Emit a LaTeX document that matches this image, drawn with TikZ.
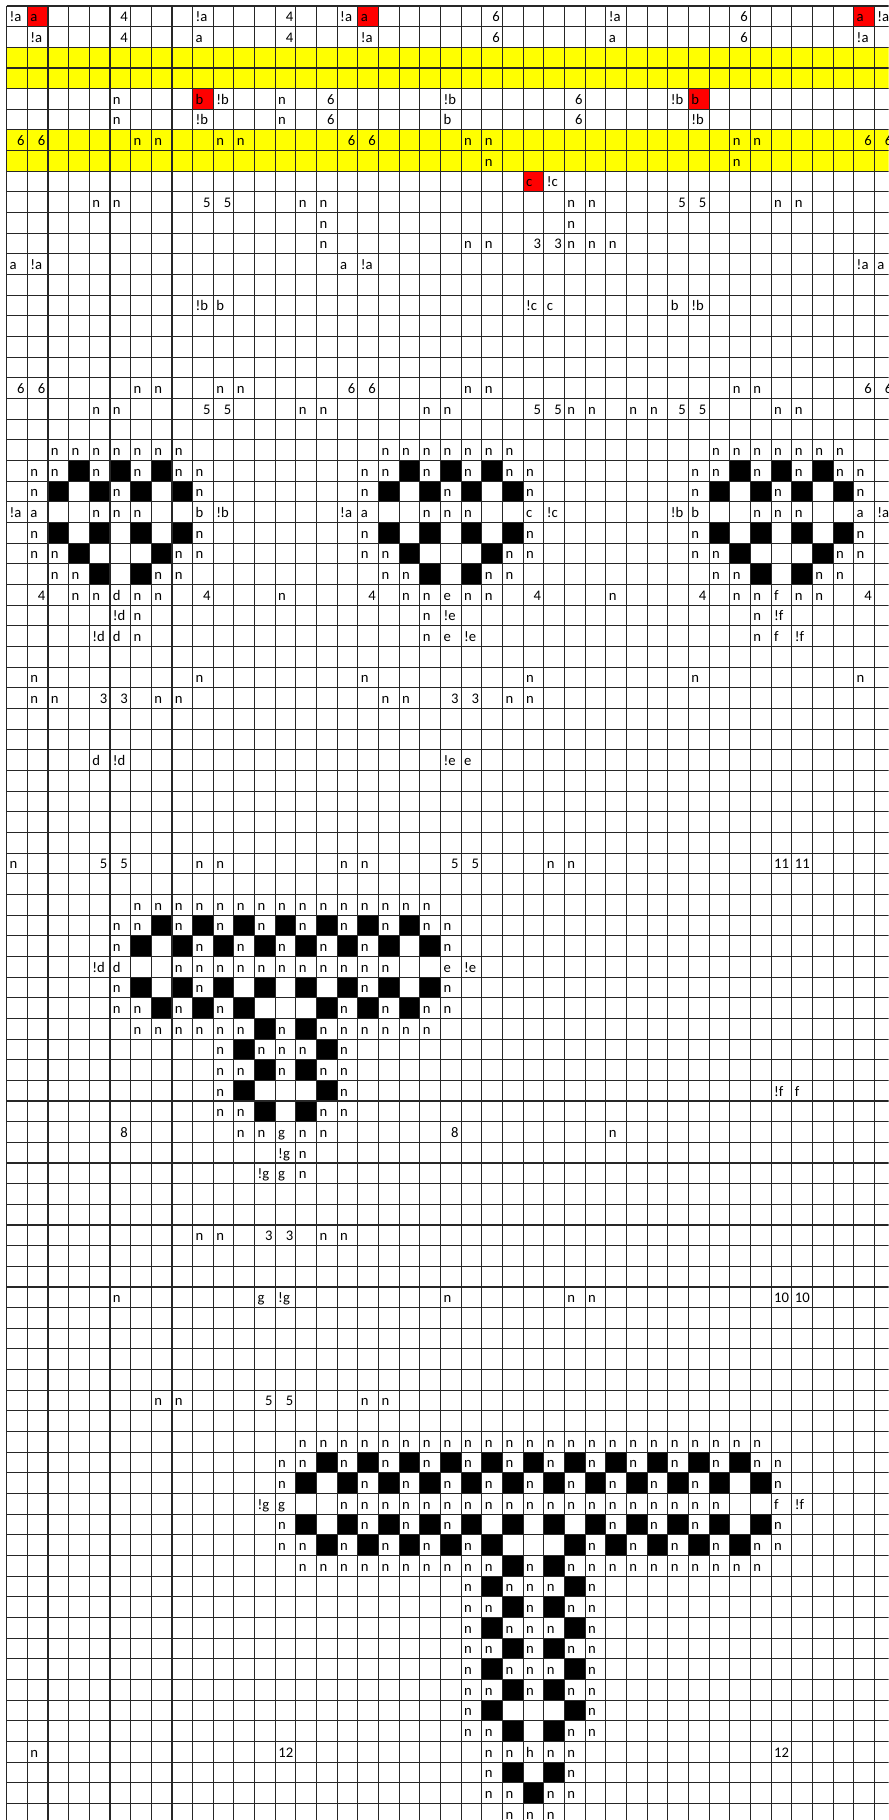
\documentclass[tikz,border=0pt]{standalone}
\usepackage{fontspec}
\setmainfont{Carlito}
\usepackage{tikz}
\definecolor{cellyellow}{RGB}{255,255,0}
\definecolor{cellred}{RGB}{255,0,0}
\definecolor{gridgray}{RGB}{38,38,38}
\tikzset{
  celltxt/.style={anchor=base west,inner sep=0pt,font=\fontsize{11}{13}\selectfont},
  cellnum/.style={anchor=base east,inner sep=0pt,font=\fontsize{11}{13}\selectfont},
  gridline/.style={gridgray,line width=0.8pt},
  redcell/.style={fill=cellred}
}
\newcommand{\lrow}[2]{\foreach \col/\txt in {#2} {\node[celltxt] (l#1x\col) at (\col+0.13,-#1-0.76) {\txt};}}
\newcommand{\rrow}[2]{\foreach \col/\txt in {#2} {\node[cellnum] (r#1x\col) at (\col+0.88,-#1-0.76) {\txt};}}
\newcommand{\nrow}[2]{\foreach \col in {#2} {\node[celltxt] (n#1x\col) at (\col+0.13,-#1-0.76) {n};}}
\newcommand{\brow}[2]{\foreach \col in {#2} {\fill[black] (\col,-#1) rectangle ++(1,-1);}}

\begin{document}
\begin{tikzpicture}[x=15.5pt,y=15.5pt]
    \useasboundingbox (-0.324,0.29) rectangle (42.686,-87.8);
    \clip (-0.324,0.29) rectangle (42.686,-87.8);
    \fill[cellyellow] (0,-2) rectangle (42.686,-4);
    \fill[cellyellow] (0,-6) rectangle (42.686,-8);
    \fill[redcell] (1,0) rectangle ++(1,-1);
    \fill[redcell] (17,0) rectangle ++(1,-1);
    \fill[redcell] (41,0) rectangle ++(1,-1);
    \fill[redcell] (9,-4) rectangle ++(1,-1);
    \fill[redcell] (33,-4) rectangle ++(1,-1);
    \fill[redcell] (25,-8) rectangle ++(1,-1);
    \brow{22}{3,5,7,19,21,23,35,37,39}
    \brow{23}{2,4,6,8,18,20,22,24,34,36,38,40}
    \brow{25}{2,4,6,8,18,20,22,24,34,36,38,40}
    \brow{26}{3,7,19,23,35,39}
    \brow{27}{4,6,20,22,36,38}
    \brow{44}{7,9,...,19}
    \brow{45}{6,8,...,20}
    \brow{47}{6,8,...,20}
    \brow{48}{7,9,11,15,17,19}
    \brow{49}{12,14}
    \brow{50}{11,15}
    \brow{51}{12,14}
    \brow{52}{11,15}
    \brow{53}{12,14}
    \brow{70}{15,17,...,35}
    \brow{71}{14,16,...,36}
    \brow{73}{14,16,...,36}
    \brow{74}{15,17,19,21,23,27,29,31,33,35}
    \brow{75}{24,26}
    \foreach \rw in {76,78,80,82} {\brow{\rw}{23,27}}
    \foreach \rw in {77,79,81,83,85} {\brow{\rw}{24,26}}
    \brow{86}{25}
    \foreach \x in {0,...,42} \draw[gridline] (\x,0) -- (\x,-87.8);
    \foreach \y in {0,...,87} \draw[gridline] (0,-\y) -- (42.686,-\y);
    \lrow{0}{0/!a,1/a,9/!a,16/!a,17/a,29/!a,41/a,42/!a}
    \rrow{0}{5/4,13/4,23/6,35/6}
    \lrow{1}{1/!a,9/a,17/!a,29/a,41/!a}
    \rrow{1}{5/4,13/4,23/6,35/6}
    \lrow{4}{9/b,10/!b,21/!b,32/!b,33/b}
    \nrow{4}{5,13}
    \rrow{4}{15/6,27/6}
    \lrow{5}{9/!b,21/b,33/!b}
    \nrow{5}{5,13}
    \rrow{5}{15/6,27/6}
    \nrow{6}{6,7,10,11,22,23,35,36}
    \rrow{6}{0/6,1/6,16/6,17/6,41/6,42/6}
    \nrow{7}{23,35}
    \lrow{8}{25/c,26/!c}
    \nrow{9}{4,5,14,15,27,28,37,38}
    \rrow{9}{9/5,10/5,32/5,33/5}
    \nrow{10}{15,27}
    \nrow{11}{15,22,23,27,28,29}
    \rrow{11}{25/3,26/3}
    \lrow{12}{0/a,1/!a,16/a,17/!a,41/!a,42/a}
    \lrow{14}{9/!b,10/b,25/!c,26/c,32/b,33/!b}
    \nrow{18}{6,7,10,11,22,23,35,36}
    \rrow{18}{0/6,1/6,16/6,17/6,41/6,42/6}
    \nrow{19}{4,5,14,15,20,21,27,28,30,31,37,38}
    \rrow{19}{9/5,10/5,25/5,26/5,32/5,33/5}
    \nrow{21}{2,3,4,5,6,7,8,18,19,20,21,22,23,24,34,35,36,37,38,39,40}
    \nrow{22}{1,2,4,6,8,9,17,18,20,22,24,25,33,34,36,38,40,41}
    \nrow{23}{1,5,9,17,21,25,33,37,41}
    \lrow{24}{0/!a,1/a,9/b,10/!b,16/!a,17/a,25/c,26/!c,32/!b,33/b,41/a,42/!a}
    \nrow{24}{4,5,6,20,21,22,36,37,38}
    \nrow{25}{1,9,17,25,33,41}
    \nrow{26}{1,2,8,9,17,18,24,25,33,34,40,41}
    \nrow{27}{2,3,7,8,18,19,23,24,34,35,39,40}
    \nrow{28}{3,4,6,7,13,19,20,22,23,29,35,36,38,39}
    \lrow{28}{5/d,21/e,37/f}
    \rrow{28}{1/4,9/4,17/4,25/4,33/4,41/4}
    \nrow{29}{6,20,36}
    \lrow{29}{5/!d,21/!e,37/!f}
    \nrow{30}{6,20,36}
    \lrow{30}{4/!d,5/d,21/e,22/!e,37/f,38/!f}
    \nrow{32}{1,9,17,25,33,41}
    \nrow{33}{1,2,7,8,18,19,24,25}
    \rrow{33}{4/3,5/3,21/3,22/3}
    \lrow{36}{4/d,5/!d,21/!e,22/e}
    \nrow{41}{0,9,10,16,17,26,27}
    \rrow{41}{4/5,5/5,21/5,22/5,37/11,38/11}
    \nrow{43}{6,...,20}
    \nrow{44}{5,6,8,10,12,14,16,18,20,21}
    \nrow{45}{5,9,11,13,15,17,21}
    \lrow{46}{4/!d,5/d,21/e,22/!e}
    \nrow{46}{8,...,18}
    \nrow{47}{5,9,17,21}
    \nrow{48}{5,6,8,10,16,18,20,21}
    \nrow{49}{6,7,8,9,10,11,13,15,16,17,18,19,20}
    \nrow{50}{10,12,13,14,16}
    \nrow{51}{10,11,13,15,16}
    \nrow{52}{10,16}
    \lrow{52}{37/!f,38/f}
    \nrow{53}{10,11,15,16}
    \nrow{54}{11,12,14,15,29}
    \lrow{54}{13/g}
    \rrow{54}{5/8,21/8}
    \nrow{55}{14}
    \lrow{55}{13/!g}
    \nrow{56}{14}
    \lrow{56}{12/!g,13/g}
    \nrow{59}{9,10,15,16}
    \rrow{59}{12/3,13/3}
    \nrow{62}{5,21,27,28}
    \lrow{62}{12/g,13/!g}
    \rrow{62}{37/10,38/10}
    \nrow{67}{7,8,17,18}
    \rrow{67}{12/5,13/5}
    \nrow{69}{14,...,36}
    \nrow{70}{13,14,16,18,20,22,24,26,28,30,32,34,36,37}
    \nrow{71}{13,17,19,21,23,25,27,29,31,33,37}
    \nrow{72}{16,...,34}
    \lrow{72}{12/!g,13/g,37/f,38/!f}
    \nrow{73}{13,17,19,21,29,31,33,37}
    \nrow{74}{13,14,16,18,20,22,28,30,32,34,36,37}
    \nrow{75}{14,15,16,17,18,19,20,21,22,23,25,27,28,29,30,31,32,33,34,35,36}
    \foreach \rw in {76,78,80} {\nrow{\rw}{22,24,25,26,28}}
    \foreach \rw in {77,79,81} {\nrow{\rw}{22,23,25,27,28}}
    \nrow{82}{22,28}
    \nrow{83}{22,23,27,28}
    \nrow{84}{1,23,24,26,27}
    \lrow{84}{25/h}
    \rrow{84}{13/12,37/12}
    \nrow{85}{23,27}
    \nrow{86}{23,24,26,27}
    \nrow{87}{24,25,26}
\end{tikzpicture}
\end{document}
